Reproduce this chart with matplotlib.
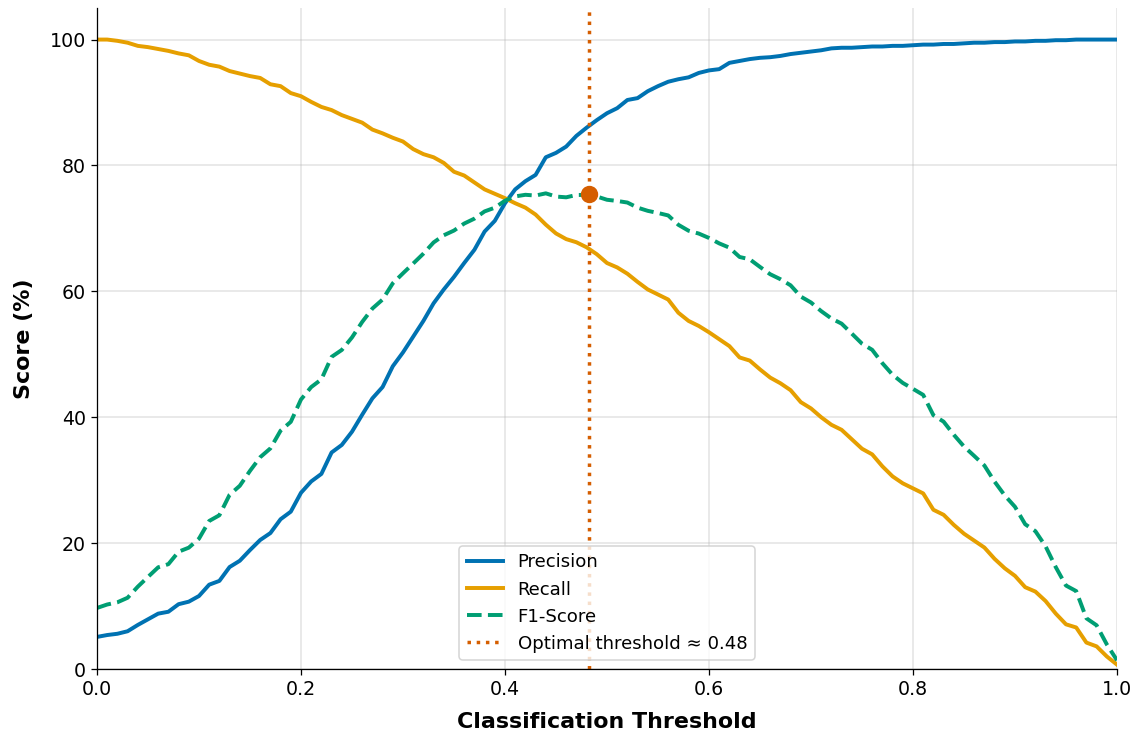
import matplotlib
matplotlib.use("Agg")
import matplotlib.pyplot as plt
import numpy as np

thresholds = [round(i * 0.01, 2) for i in range(101)]

precision = [5.1, 5.4, 5.6, 6.0, 7.0, 7.9, 8.8, 9.1, 10.3, 10.7,
             11.6, 13.4, 14.0, 16.2, 17.2, 18.9, 20.5, 21.6, 23.8, 25.0,
             28.0, 29.8, 31.0, 34.4, 35.6, 37.7, 40.4, 43.0, 44.8, 48.1,
             50.3, 52.8, 55.3, 58.1, 60.3, 62.3, 64.5, 66.6, 69.5, 71.2,
             74.0, 76.2, 77.5, 78.5, 81.3, 82.0, 83.0, 84.7, 86.0, 87.2,
             88.3, 89.1, 90.4, 90.7, 91.8, 92.6, 93.3, 93.7, 94.0, 94.7,
             95.1, 95.3, 96.3, 96.6, 96.9, 97.1, 97.2, 97.4, 97.7, 97.9,
             98.1, 98.3, 98.6, 98.7, 98.7, 98.8, 98.9, 98.9, 99.0, 99.0,
             99.1, 99.2, 99.2, 99.3, 99.3, 99.4, 99.5, 99.5, 99.6, 99.6,
             99.7, 99.7, 99.8, 99.8, 99.9, 99.9, 100.0, 100.0, 100.0, 100.0,
             100.0]

recall = [100.0, 100.0, 99.8, 99.5, 99.0, 98.8, 98.5, 98.2, 97.8, 97.5,
          96.6, 96.0, 95.7, 95.0, 94.6, 94.2, 93.9, 92.9, 92.6, 91.5,
          91.0, 90.1, 89.3, 88.8, 88.0, 87.4, 86.8, 85.7, 85.1, 84.4,
          83.8, 82.6, 81.8, 81.3, 80.4, 79.0, 78.4, 77.3, 76.2, 75.5,
          74.8, 74.0, 73.3, 72.2, 70.6, 69.2, 68.3, 67.8, 67.0, 65.9,
          64.5, 63.8, 62.8, 61.5, 60.3, 59.5, 58.7, 56.6, 55.3, 54.5,
          53.5, 52.4, 51.3, 49.5, 49.0, 47.6, 46.3, 45.4, 44.3, 42.4,
          41.4, 40.0, 38.8, 38.0, 36.5, 35.0, 34.1, 32.2, 30.6, 29.5,
          28.7, 27.9, 25.3, 24.5, 22.9, 21.5, 20.4, 19.3, 17.5, 16.0,
          14.8, 13.0, 12.3, 10.8, 8.8, 7.1, 6.6, 4.2, 3.6, 2.0,
          0.7]

f1_score = [9.70, 10.25, 10.60, 11.32, 13.08, 14.63, 16.16, 16.66, 18.64, 19.28,
            20.71, 23.52, 24.43, 27.68, 29.11, 31.48, 33.65, 35.05, 37.87, 39.27,
            42.82, 44.79, 46.02, 49.59, 50.69, 52.68, 55.14, 57.27, 58.70, 61.28,
            62.87, 64.42, 65.99, 67.77, 68.91, 69.66, 70.77, 71.55, 72.70, 73.29,
            74.40, 75.08, 75.34, 75.22, 75.57, 75.06, 74.94, 75.31, 75.32, 75.07,
            74.55, 74.36, 74.11, 73.30, 72.79, 72.45, 72.06, 70.57, 69.63, 69.18,
            68.48, 67.62, 66.94, 65.46, 65.09, 63.88, 62.72, 61.93, 60.96, 59.17,
            58.23, 56.86, 55.69, 54.87, 53.29, 51.69, 50.71, 48.58, 46.75, 45.45,
            44.51, 43.55, 40.32, 39.30, 37.22, 35.35, 33.86, 32.33, 29.77, 27.57,
            25.77, 23.00, 21.90, 19.49, 16.18, 13.26, 12.38, 8.06, 6.95, 3.92,
            1.39]

opt_threshold = 0.482
opt_f1 = 75.5

c_prec = "#0072B2"
c_rec = "#E69F00"
c_f1 = "#009E73"
c_opt = "#D55E00"

DPI = 113.7
fig = plt.figure(figsize=(1137 / DPI, 736 / DPI), dpi=DPI)
ax = fig.add_axes([0.0853, 0.091, 0.8971, 0.898])

ax.plot(thresholds, precision, color=c_prec, lw=2.5, label="Precision")
ax.plot(thresholds, recall, color=c_rec, lw=2.5, label="Recall")
ax.plot(thresholds, f1_score, color=c_f1, lw=2.5, ls="--", label="F1-Score")
ax.axvline(opt_threshold, color=c_opt, lw=2.2, ls=":",
           label=f"Optimal threshold \u2248 {opt_threshold:.2f}")
ax.plot([opt_threshold], [opt_f1], "o", color=c_opt, markersize=10, zorder=5)

ax.set_xlim(0, 1)
ax.set_ylim(0, 105)
ax.set_xticks([0.0, 0.2, 0.4, 0.6, 0.8, 1.0])
ax.set_yticks([0, 20, 40, 60, 80, 100])
ax.tick_params(labelsize=12)
ax.grid(True, color="#b0b0b0", alpha=0.35, lw=1)
ax.spines["top"].set_visible(False)
ax.spines["right"].set_visible(False)
ax.set_xlabel("Classification Threshold", fontsize=14, fontweight="bold", labelpad=8)
ax.set_ylabel("Score (%)", fontsize=14, fontweight="bold", labelpad=10)
ax.legend(loc="lower center", fontsize=11.5)

fig.savefig("out.png", dpi=DPI)
